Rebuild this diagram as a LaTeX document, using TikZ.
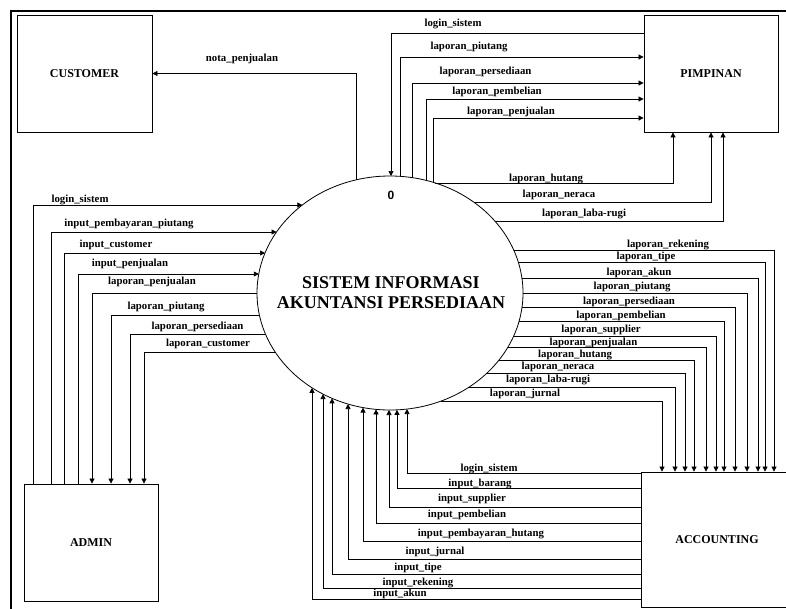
\documentclass[tikz,border=0pt]{standalone}
\usepackage{fontspec}
\setmainfont{Liberation Serif}
\newfontfamily\sansf{Liberation Sans}
\usetikzlibrary{arrows.meta,calc,shapes.geometric}
% point on the ellipse at height #2 (pixels), side #1 (-1 left, +1 right)
\newcommand\onH[2]{($(sys.center)+({#1*133*sqrt(1-((#2-293)/117)^2)},#2-293)$)}
% point on the ellipse at abscissa #2 (pixels), side #1 (-1 top, +1 bottom)
\newcommand\onV[2]{($(sys.center)+(#2-390,{#1*117*sqrt(1-((#2-390)/133)^2)})$)}
\newcommand\lab[3]{\node[lbl] (#1) at (#2) {#3};}
\begin{document}
\begin{tikzpicture}[x=1pt,y=-1pt,
  lbl/.style={font=\fontsize{10.8}{12}\selectfont\bfseries, anchor=base, inner sep=0},
  ent/.style={draw, line width=0.8pt, rectangle, inner sep=0, fill=white,
    font=\fontsize{12}{14}\selectfont\bfseries},
  flow/.style={draw, line width=0.7pt, -{Triangle[length=5pt,width=5pt]}}
]
\useasboundingbox (0,0) rectangle (786,608);
\begin{scope}
\clip (0,0) rectangle (786,608);
\draw[line width=2.2pt] (11,11) rectangle (830,650);

% entities
\node[ent, minimum width=135, minimum height=117] (cust) at (84.5,73.5) {CUSTOMER};
\node[ent, minimum width=134, minimum height=117] (pim) at (711,73.5) {PIMPINAN};
\node[ent, minimum width=134, minimum height=117] (adm) at (91,542.5) {ADMIN};
\node[ent, minimum width=152, minimum height=135] (acc) at (717,539.5) {ACCOUNTING};

% process
\node[draw, ellipse, line width=0.8pt, minimum width=266, minimum height=234, inner sep=0] (sys) at (390,293) {};
\node[font=\fontsize{18}{19.5}\selectfont\bfseries, align=center] (title) at (391,292.5)
  {SISTEM INFORMASI\\AKUNTANSI PERSEDIAAN};
\node[font=\sansf\bfseries\fontsize{12}{14}\selectfont] (zero) at (391,195) {0};

% customer
\draw[flow] \onV{-1}{356} |- (cust.east);
\lab{n1}{242,61}{nota\_penjualan}

% pimpinan
\draw[flow] (pim.west |- 0,33) -| \onV{-1}{391};
\draw[flow] \onV{-1}{400} |- (pim.west |- 0,57);
\draw[flow] \onV{-1}{412} |- (pim.west |- 0,83);
\draw[flow] \onV{-1}{426} |- (pim.west |- 0,99);
\draw[flow] \onV{-1}{433} |- (pim.west |- 0,118);
\draw[flow] \onH{1}{183} -| (pim.south -| 673,0);
\draw[flow] \onH{1}{202} -| (pim.south -| 711,0);
\draw[flow] \onH{1}{221} -| (pim.south -| 723,0);
\lab{p1}{453,26}{login\_sistem}
\lab{p2}{469,49}{laporan\_piutang}
\lab{p3}{485.5,74}{laporan\_persediaan}
\lab{p4}{497,94}{laporan\_pembelian}
\lab{p5}{511,114}{laporan\_penjualan}
\lab{p6}{546,181}{laporan\_hutang}
\lab{p7}{559,197}{laporan\_neraca}
\lab{p8}{584,216}{laporan\_laba-rugi}

% admin
\draw[flow] (adm.north -| 33,0) |- \onH{-1}{205};
\draw[flow] (adm.north -| 51,0) |- \onH{-1}{232};
\draw[flow] (adm.north -| 64,0) |- \onH{-1}{253};
\draw[flow] (adm.north -| 78,0) |- \onH{-1}{274};
\draw[flow] \onH{-1}{293} -| (adm.north -| 92,0);
\draw[flow] \onH{-1}{315} -| (adm.north -| 111,0);
\draw[flow] \onH{-1}{334} -| (adm.north -| 130,0);
\draw[flow] \onH{-1}{352} -| (adm.north -| 144,0);
\lab{a1}{80,202}{login\_sistem}
\lab{a2}{129,226}{input\_pembayaran\_piutang}
\lab{a3}{116,247}{input\_customer}
\lab{a4}{130,266}{input\_penjualan}
\lab{a5}{152,284}{laporan\_penjualan}
\lab{a6}{166,309}{laporan\_piutang}
\lab{a7}{197.5,329}{laporan\_persediaan}
\lab{a8}{208,346}{laporan\_customer}

% accounting: reports
\draw[flow] \onH{1}{250} -| (acc.north -| 774,0);
\draw[flow] \onH{1}{262} -| (acc.north -| 765,0);
\draw[flow] \onH{1}{278} -| (acc.north -| 758,0);
\draw[flow] \onH{1}{293} -| (acc.north -| 747,0);
\draw[flow] \onH{1}{307} -| (acc.north -| 735,0);
\draw[flow] \onH{1}{321} -| (acc.north -| 724,0);
\draw[flow] \onH{1}{336} -| (acc.north -| 716,0);
\draw[flow] \onH{1}{347} -| (acc.north -| 706,0);
\draw[flow] \onH{1}{360} -| (acc.north -| 694,0);
\draw[flow] \onH{1}{373} -| (acc.north -| 685,0);
\draw[flow] \onH{1}{387} -| (acc.north -| 675,0);
\draw[flow] \onH{1}{401} -| (acc.north -| 662,0);
\lab{r1}{668,247}{laporan\_rekening}
\lab{r2}{646,259}{laporan\_tipe}
\lab{r3}{639,275}{laporan\_akun}
\lab{r4}{632,289}{laporan\_piutang}
\lab{r5}{629,304}{laporan\_persediaan}
\lab{r6}{621,318}{laporan\_pembelian}
\lab{r7}{601,332}{laporan\_supplier}
\lab{r8}{593.5,345}{laporan\_penjualan}
\lab{r9}{575,357}{laporan\_hutang}
\lab{r10}{558,369}{laporan\_neraca}
\lab{r11}{548,382}{laporan\_laba-rugi}
\lab{r12}{525,396}{laporan\_jurnal}

% accounting: inputs
\draw[flow] (acc.west |- 0,473) -| \onV{1}{407};
\draw[flow] (acc.west |- 0,488) -| \onV{1}{397};
\draw[flow] (acc.west |- 0,507) -| \onV{1}{389};
\draw[flow] (acc.west |- 0,523) -| \onV{1}{376};
\draw[flow] (acc.west |- 0,541) -| \onV{1}{363};
\draw[flow] (acc.west |- 0,559) -| \onV{1}{348};
\draw[flow] (acc.west |- 0,574) -| \onV{1}{332};
\draw[flow] (acc.west |- 0,588) -| \onV{1}{323};
\draw[flow] (acc.west |- 0,599) -| \onV{1}{312};
\lab{i1}{489,471}{login\_sistem}
\lab{i2}{480,486}{input\_barang}
\lab{i3}{472,501}{input\_supplier}
\lab{i4}{467,517}{input\_pembelian}
\lab{i5}{481,536}{input\_pembayaran\_hutang}
\lab{i6}{435,554}{input\_jurnal}
\lab{i7}{418,570}{input\_tipe}
\lab{i8}{418,585}{input\_rekening}
\lab{i9}{400,596}{input\_akun}
\end{scope}
\end{tikzpicture}
\end{document}
